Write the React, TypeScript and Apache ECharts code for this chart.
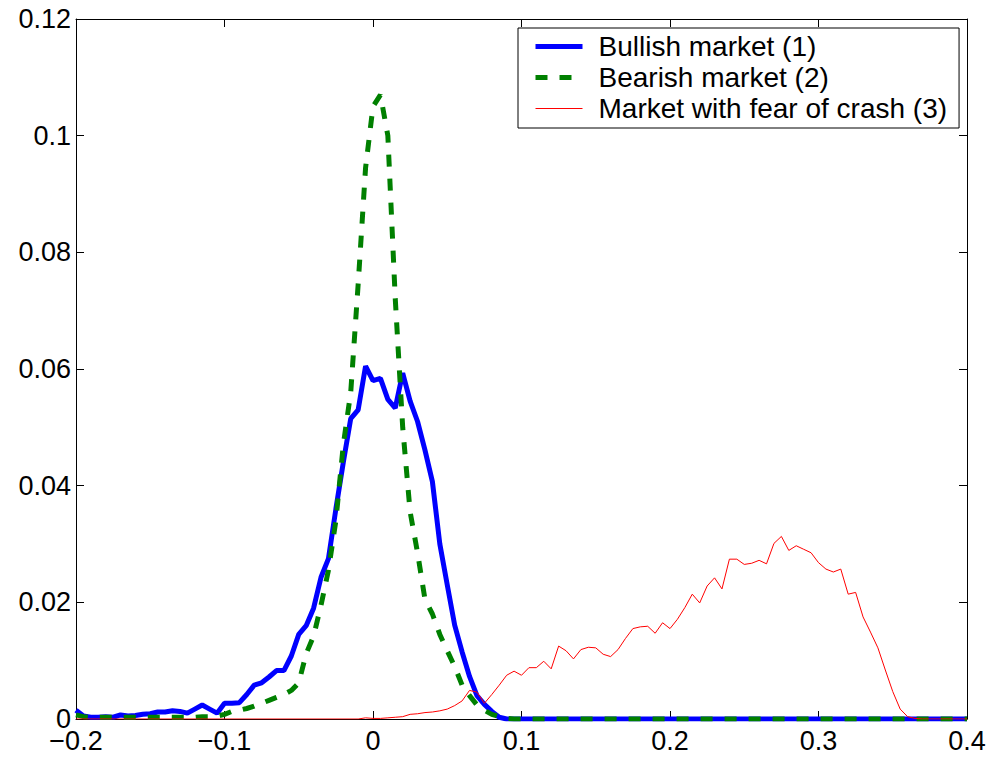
import React, { useEffect, useRef } from "react";
import * as echarts from "echarts";

// Tick labels for the return axis (x) and the density axis (y)
const xTickLabels = ["\u22120.2", "\u22120.1", "0", "0.1", "0.2", "0.3", "0.4"];
const yTickLabels = ["0", "0.02", "0.04", "0.06", "0.08", "0.1", "0.12"];

const seriesNames = ["Bullish market (1)", "Bearish market (2)", "Market with fear of crash (3)"];
const seriesColors = ["#0000ff", "#008000", "#ff0000"];
const seriesWidths = [5, 5, 1];

// Empirical return densities: [return, density]
const bullish: [number, number][] = [
  [-0.2, 0.0015], [-0.195, 0.0005], [-0.19, 0.0003], [-0.185, 0.0003], [-0.18, 0.0004],
  [-0.175, 0.0003], [-0.17, 0.0007], [-0.165, 0.0005], [-0.16, 0.0006], [-0.155, 0.0008],
  [-0.15, 0.0009], [-0.145, 0.0012], [-0.14, 0.0012], [-0.135, 0.0014], [-0.13, 0.0013],
  [-0.125, 0.001], [-0.12, 0.0017], [-0.115, 0.0024], [-0.11, 0.0017], [-0.105, 0.001],
  [-0.1, 0.0027], [-0.095, 0.0027], [-0.09, 0.0028], [-0.085, 0.0042], [-0.08, 0.0058],
  [-0.075, 0.0062], [-0.07, 0.0072], [-0.065, 0.0083], [-0.06, 0.0083], [-0.055, 0.0108],
  [-0.05, 0.0145], [-0.045, 0.016], [-0.04, 0.019], [-0.035, 0.0243], [-0.03, 0.0275],
  [-0.025, 0.036], [-0.02, 0.044], [-0.015, 0.0515], [-0.01, 0.053], [-0.005, 0.0605],
  [0, 0.058], [0.005, 0.0584], [0.01, 0.0548], [0.015, 0.0533], [0.02, 0.0593],
  [0.025, 0.0545], [0.03, 0.051], [0.035, 0.0461], [0.04, 0.0407], [0.045, 0.03],
  [0.05, 0.023], [0.055, 0.0161], [0.06, 0.0115], [0.065, 0.0073], [0.07, 0.004],
  [0.075, 0.0025], [0.08, 0.0013], [0.085, 0.0003], [0.09, 0], [0.4, 0],
];

const bearish: [number, number][] = [
  [-0.2, 0.0007], [-0.195, 0.0004], [-0.19, 0.0003], [-0.185, 0.0003], [-0.18, 0.0003],
  [-0.175, 0.0003], [-0.17, 0.0003], [-0.165, 0.0003], [-0.16, 0.0003], [-0.155, 0.0003],
  [-0.15, 0.0003], [-0.145, 0.0003], [-0.14, 0.0003], [-0.135, 0.0003], [-0.13, 0.0003],
  [-0.125, 0.0003], [-0.12, 0.0003], [-0.115, 0.0004], [-0.11, 0.0004], [-0.105, 0.0005],
  [-0.1, 0.0008], [-0.095, 0.0013], [-0.09, 0.0015], [-0.085, 0.0018], [-0.08, 0.0022],
  [-0.075, 0.0027], [-0.07, 0.0032], [-0.065, 0.0037], [-0.06, 0.0042], [-0.055, 0.0049],
  [-0.05, 0.0062], [-0.045, 0.0112], [-0.04, 0.0142], [-0.035, 0.0195], [-0.03, 0.0255],
  [-0.025, 0.034], [-0.02, 0.047], [-0.015, 0.056], [-0.01, 0.0745], [-0.005, 0.0945],
  [0, 0.105], [0.005, 0.107], [0.01, 0.1], [0.015, 0.072], [0.02, 0.05],
  [0.025, 0.0355], [0.03, 0.0285], [0.035, 0.0205], [0.04, 0.018], [0.045, 0.0145],
  [0.05, 0.0117], [0.055, 0.009], [0.06, 0.0058], [0.065, 0.004], [0.07, 0.0024],
  [0.075, 0.0015], [0.08, 0.0008], [0.085, 0.0004], [0.09, 0.0001], [0.095, 0], [0.4, 0],
];

const fearOfCrash: [number, number][] = [
  [-0.2, 0], [-0.01, 0], [-0.005, 0.0002], [0, 0.0001], [0.005, 0.0001], [0.01, 0.0002],
  [0.015, 0.0003], [0.02, 0.0004], [0.025, 0.0008], [0.03, 0.0009], [0.035, 0.0011],
  [0.04, 0.0012], [0.045, 0.0014], [0.05, 0.0017], [0.055, 0.0023], [0.06, 0.0031],
  [0.065, 0.0049], [0.07, 0.0046], [0.075, 0.0027], [0.08, 0.0042], [0.085, 0.0058],
  [0.09, 0.0075], [0.095, 0.0082], [0.1, 0.0075], [0.105, 0.0088], [0.11, 0.0088],
  [0.115, 0.0099], [0.12, 0.0086], [0.125, 0.0125], [0.13, 0.0117], [0.135, 0.0103],
  [0.14, 0.0119], [0.145, 0.0123], [0.15, 0.0122], [0.155, 0.0111], [0.16, 0.0107],
  [0.165, 0.0119], [0.17, 0.0138], [0.175, 0.0155], [0.18, 0.0158], [0.185, 0.0159],
  [0.19, 0.0147], [0.195, 0.0165], [0.2, 0.0155], [0.205, 0.0171], [0.21, 0.0191],
  [0.215, 0.0214], [0.22, 0.0199], [0.225, 0.0228], [0.23, 0.0242], [0.235, 0.0223],
  [0.24, 0.0274], [0.245, 0.0274], [0.25, 0.0265], [0.255, 0.0267], [0.26, 0.0272],
  [0.265, 0.0266], [0.27, 0.0301], [0.275, 0.0313], [0.28, 0.0289], [0.285, 0.0297],
  [0.29, 0.0291], [0.295, 0.0285], [0.3, 0.0268], [0.305, 0.0257], [0.31, 0.0252],
  [0.315, 0.0257], [0.32, 0.0214], [0.325, 0.0217], [0.33, 0.0175], [0.335, 0.0149],
  [0.34, 0.0122], [0.345, 0.0084], [0.35, 0.0047], [0.355, 0.0017], [0.36, 0.0004],
  [0.365, 0.0001], [0.37, 0], [0.4, 0],
];

const seriesData = [bullish, bearish, fearOfCrash];
const dashPattern = [12, 12];

const FONT = "'Liberation Sans', Arial, Helvetica, sans-serif";
const TICK_FONT_SIZE = 27;
const LEGEND_FONT_SIZE = 28;

function App() {
  const ref = useRef<HTMLDivElement>(null);

  useEffect(() => {
    if (!ref.current) return;
    const chart = echarts.init(ref.current, null, { renderer: "svg" });

    const xLabel = (v: number) => xTickLabels[Math.round((v + 0.2) / 0.1)] ?? "";
    const yLabel = (v: number) => yTickLabels[Math.round(v / 0.02)] ?? "";

    const axisLine = { onZero: false, lineStyle: { color: "#000", width: 1 } };
    const axisTick = { inside: true, length: 8, lineStyle: { color: "#000", width: 1 } };
    const labelStyle = { color: "#000", fontSize: TICK_FONT_SIZE, fontFamily: FONT, lineHeight: 20 };

    const xBase = { type: "value" as const, min: -0.2, max: 0.4, interval: 0.1, axisLine, axisTick, splitLine: { show: false } };
    const yBase = { type: "value" as const, min: 0, max: 0.12, interval: 0.02, axisLine, axisTick, splitLine: { show: false } };

    const lineStyleOf = (i: number) => ({
      color: seriesColors[i],
      width: seriesWidths[i],
      type: i === 1 ? dashPattern : "solid",
    });

    chart.setOption({
      animation: false,
      backgroundColor: "#fff",
      grid: { left: 76, right: 24, top: 19, bottom: 40, containLabel: false },
      xAxis: [
        { ...xBase, position: "bottom", axisLabel: { ...labelStyle, margin: 11.5, formatter: xLabel } },
        { ...xBase, position: "top", axisLabel: { show: false } },
      ],
      yAxis: [
        { ...yBase, position: "left", axisLabel: { ...labelStyle, margin: 5, formatter: yLabel } },
        { ...yBase, position: "right", axisLabel: { show: false } },
      ],
      legend: {
        orient: "vertical",
        left: 518,
        top: 28,
        data: seriesNames.map((name, i) => ({
          name,
          itemStyle: { opacity: 0 },
          lineStyle: lineStyleOf(i),
        })),
        selectedMode: false,
        itemWidth: 47,
        itemHeight: 14,
        itemGap: 0,
        padding: [3, 12, 4, 15],
        backgroundColor: "#fff",
        borderColor: "#000",
        borderWidth: 1,
        borderRadius: 0,
        textStyle: {
          color: "#000",
          fontSize: LEGEND_FONT_SIZE,
          fontFamily: FONT,
          lineHeight: 31,
          padding: [0, 0, 0, 11],
        },
      },
      series: seriesNames.map((name, i) => ({
        name,
        type: "line",
        data: seriesData[i],
        symbol: "none",
        lineStyle: lineStyleOf(i),
        itemStyle: { color: seriesColors[i] },
      })),
    });

    return () => chart.dispose();
  }, []);

  return (
    <div
      ref={ref}
      style={{ position: "fixed", left: 0, top: 0, width: 991, height: 759, background: "#fff" }}
    />
  );
}

export default App;
